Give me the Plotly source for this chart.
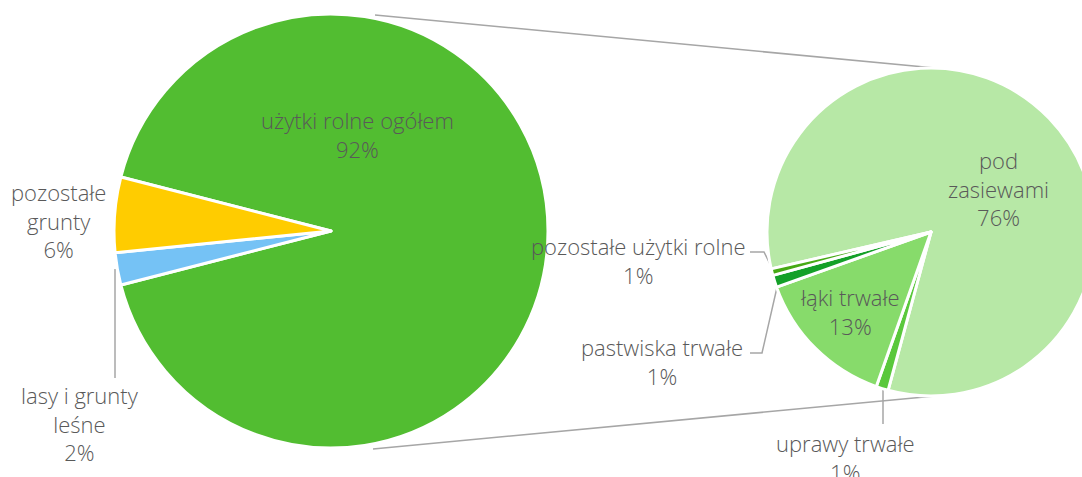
import plotly.graph_objects as go

# left pie: land use, share of total area (%)
left_labels = ["użytki rolne ogółem", "lasy i grunty leśne", "pozostałe grunty"]
left_values = [92.0, 2.4, 5.6]
left_colors = ["#52BD31", "#75C2F5", "#FFCC00"]

# right pie: breakdown of agricultural land (% of total area)
right_labels = ["pod zasiewami", "uprawy trwałe", "łąki trwałe", "pastwiska trwałe", "pozostałe użytki rolne"]
right_values = [76.2, 1.1, 13.0, 1.1, 0.6]
right_colors = ["#B7E8A6", "#5AC83C", "#87DB6B", "#14A028", "#46AA14"]

# figure is a bit wider than the window so the right pie gets cut at the edge
W, H = 1100, 477
TXT = "#595959"
LINE = "#A6A6A6"
FONT = dict(family="Open Sans", size=22, color=TXT, weight=300)


def px(x, y):
    return x / W, 1 - y / H


def dom(cx, cy, r):
    x0, y1 = px(cx - r, cy - r)
    x1, y0 = px(cx + r, cy + r)
    return dict(x=[x0, x1], y=[y0, y1])


fig = go.Figure()

share = left_values[0] / sum(left_values)
fig.add_trace(go.Pie(
    labels=left_labels, values=left_values, sort=False,
    direction="clockwise", rotation=90 - share * 180,
    marker=dict(colors=left_colors, line=dict(color="white", width=3)),
    textinfo="none", hoverinfo="label+value",
    domain=dom(331, 231, 217), showlegend=False,
))

fig.add_trace(go.Pie(
    labels=right_labels, values=right_values, sort=False,
    direction="clockwise", rotation=-103,
    marker=dict(colors=right_colors, line=dict(color="white", width=3)),
    textinfo="none", hoverinfo="label+value",
    domain=dom(931, 232, 164), showlegend=False,
))

# label placement (pixel centres)
label_pos = {
    "użytki rolne ogółem": (357, 134),
    "pozostałe grunty": (58, 220),
    "lasy i grunty leśne": (80, 423),
    "pod zasiewami": (998, 188),
    "łąki trwałe": (850, 311),
    "pozostałe użytki rolne": (638, 260),
    "pastwiska trwałe": (662, 361),
    "uprawy trwałe": (845, 457),
}
label_wrap = {
    "pozostałe grunty": "pozostałe<br>grunty",
    "lasy i grunty leśne": "lasy i grunty<br>leśne",
    "pod zasiewami": "pod<br>zasiewami",
}

for lab, val in zip(left_labels + right_labels, left_values + right_values):
    x, y = px(*label_pos[lab])
    fig.add_annotation(
        x=x, y=y, xref="paper", yref="paper", showarrow=False,
        text=f"{label_wrap.get(lab, lab)}<br>{round(val)}%",
        font=FONT, xanchor="center", yanchor="middle",
    )


def seg(points):
    path = "M " + " L ".join(f"{px(x, y)[0]:.5f},{px(x, y)[1]:.5f}" for x, y in points)
    return dict(type="path", path=path, xref="paper", yref="paper",
                line=dict(color=LINE, width=1.5), layer="below")


shapes = [
    seg([(375, 15), (935, 68)]),
    seg([(373, 449), (935, 396)]),
    seg([(115, 269), (115, 378)]),
    seg([(750, 252), (764, 252), (774, 272)]),
    seg([(750, 353), (762, 353), (778, 283)]),
    seg([(883, 388), (883, 424)]),
]

fig.update_layout(
    width=W, height=H,
    margin=dict(l=0, r=0, t=0, b=0),
    paper_bgcolor="white", plot_bgcolor="white",
    xaxis=dict(visible=False, range=[0, 1]),
    yaxis=dict(visible=False, range=[0, 1]),
    shapes=shapes,
)

fig.write_html(
    "out.html",
    config={"displayModeBar": False},
    post_script="document.body.style.margin='0';"
                "document.body.style.overflow='hidden';"
                "document.documentElement.style.overflow='hidden';",
)
